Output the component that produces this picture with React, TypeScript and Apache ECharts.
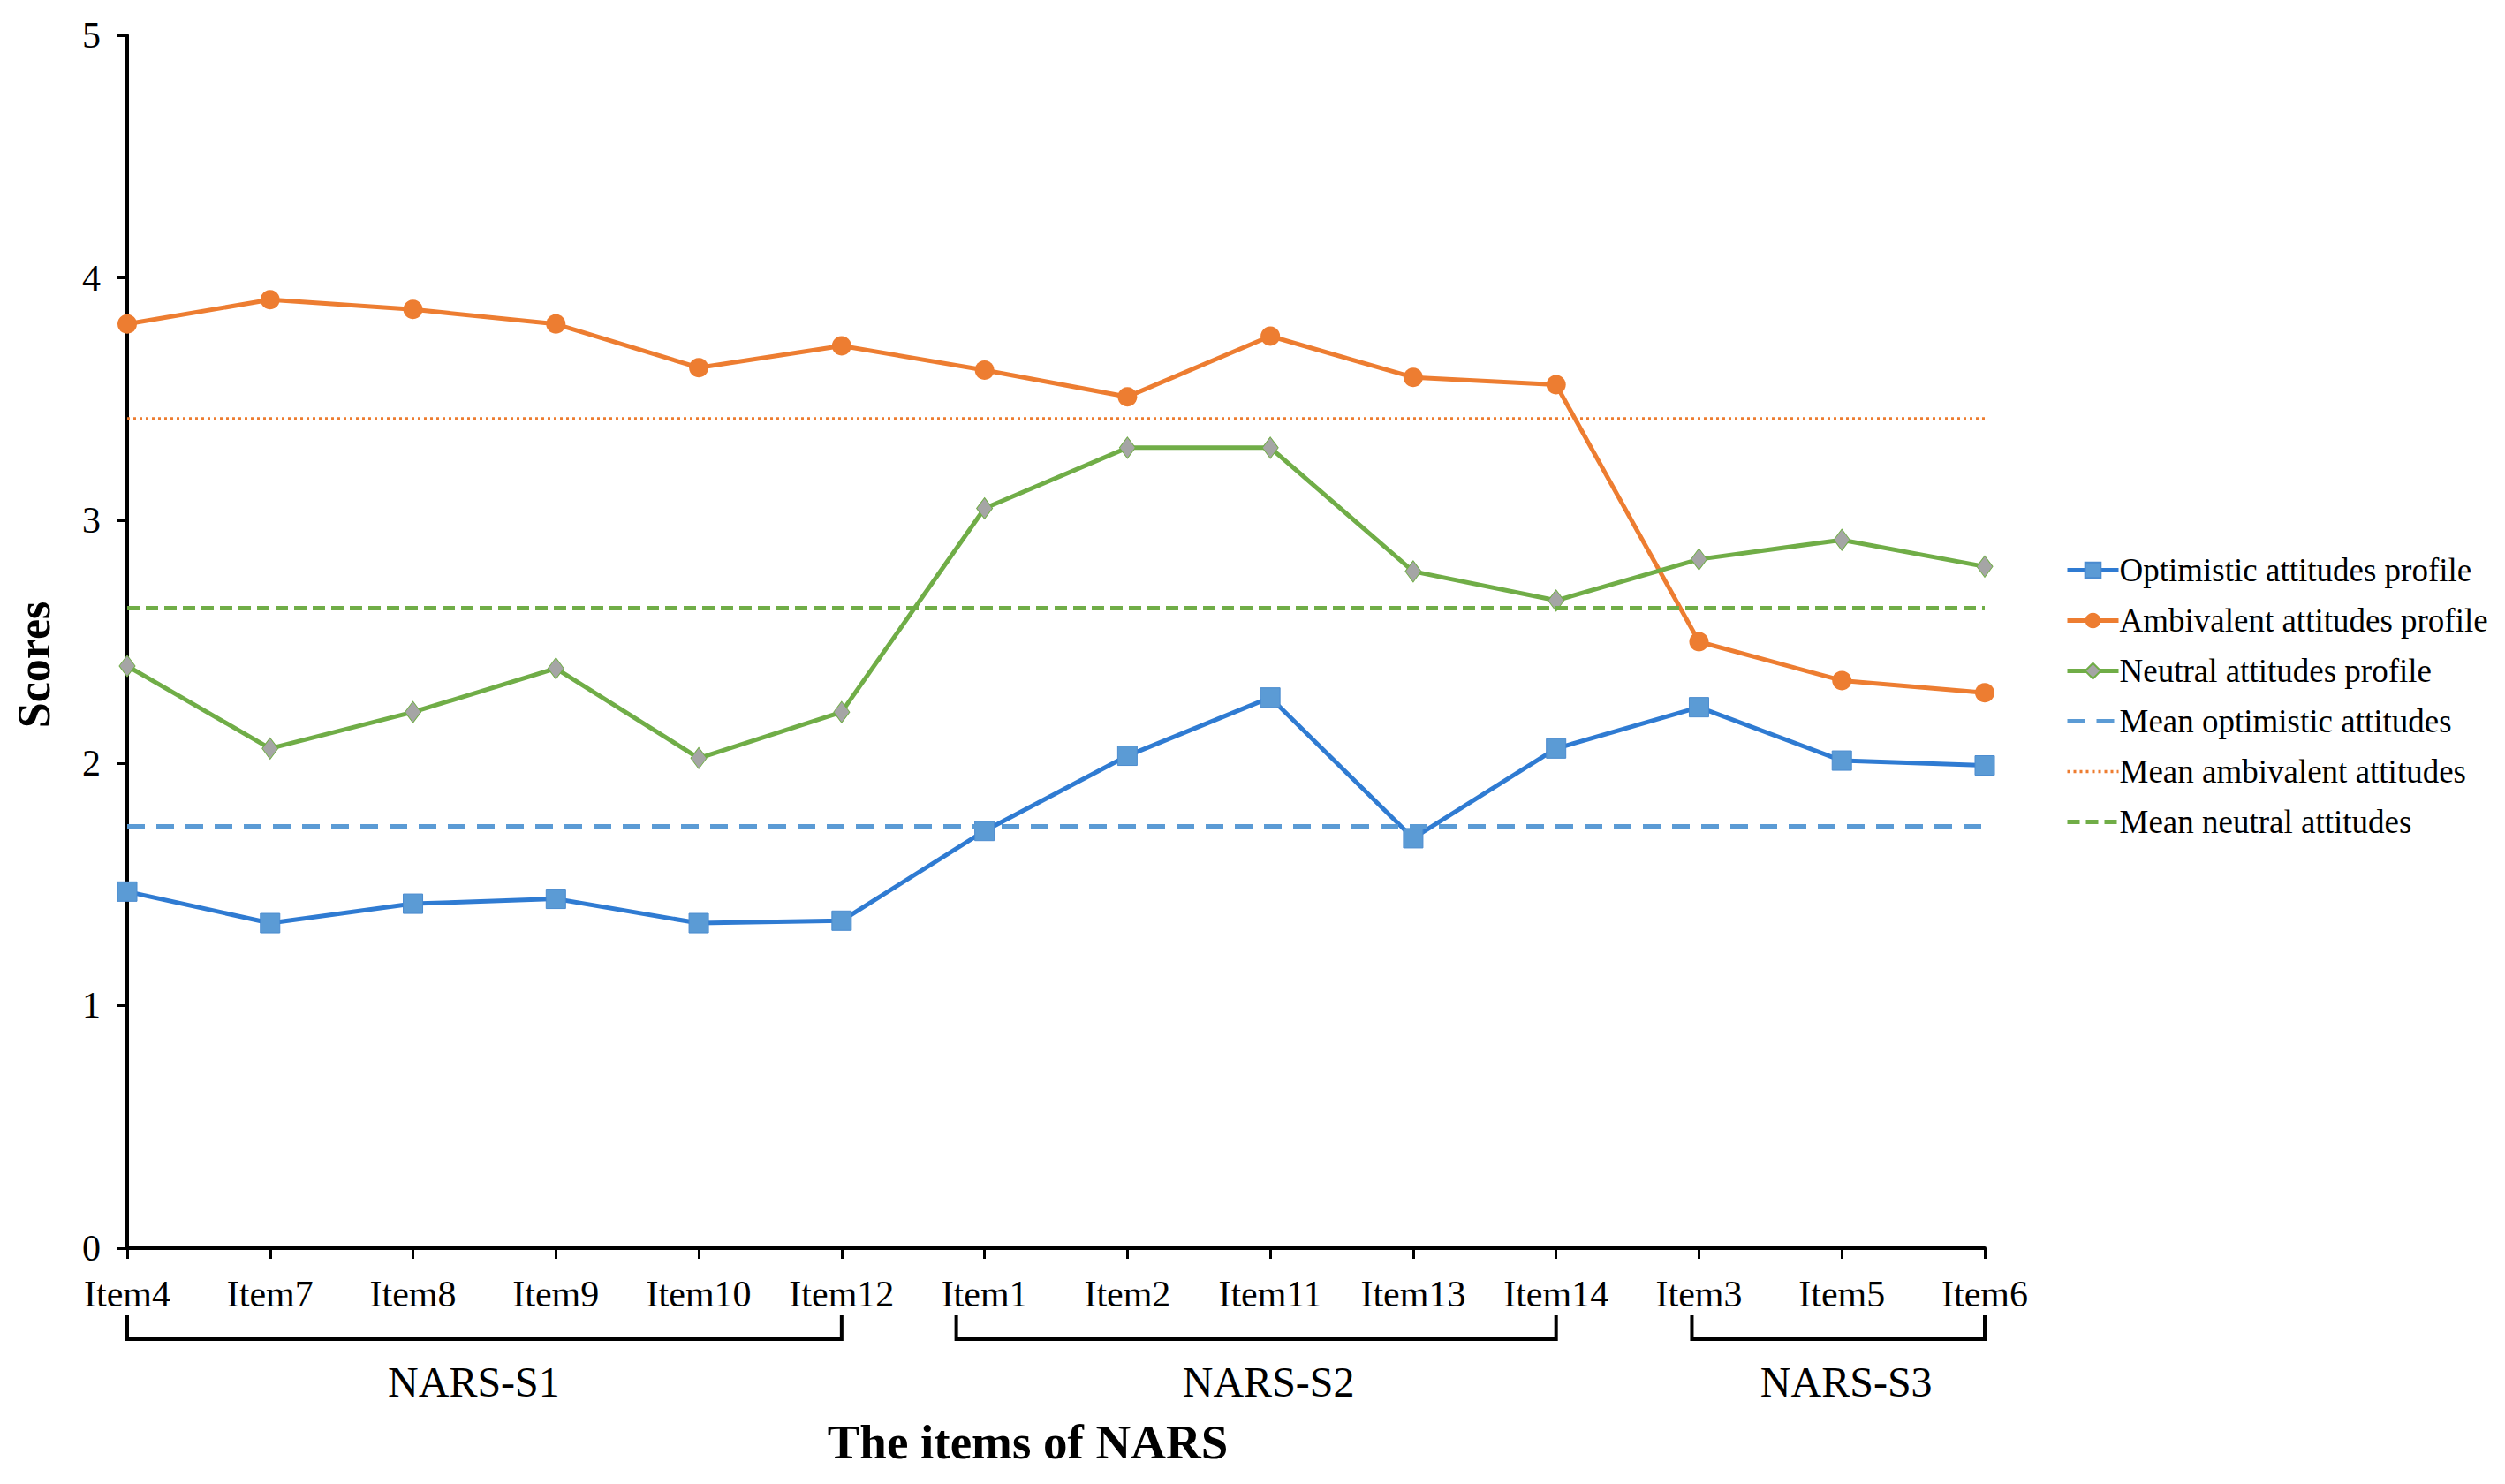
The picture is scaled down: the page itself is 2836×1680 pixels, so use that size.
import React, { useEffect, useRef } from "react";
import * as echarts from "echarts";

const categories = ["Item4", "Item7", "Item8", "Item9", "Item10", "Item12", "Item1", "Item2", "Item11", "Item13", "Item14", "Item3", "Item5", "Item6"];
const optimistic = [1.47, 1.34, 1.42, 1.44, 1.34, 1.35, 1.72, 2.03, 2.27, 1.69, 2.06, 2.23, 2.01, 1.99];
const ambivalent = [3.81, 3.91, 3.87, 3.81, 3.63, 3.72, 3.62, 3.51, 3.76, 3.59, 3.56, 2.5, 2.34, 2.29];
const neutral = [2.4, 2.06, 2.21, 2.39, 2.02, 2.21, 3.05, 3.3, 3.3, 2.79, 2.67, 2.84, 2.92, 2.81];
const meanOptimistic = 1.74;
const meanAmbivalent = 3.42;
const meanNeutral = 2.64;
const groupLabels = ["NARS-S1", "NARS-S2", "NARS-S3"];
const groupStart = ["Item4", "Item1", "Item3"];
const groupEnd = ["Item12", "Item14", "Item6"];
const seriesNames = [
  "Optimistic attitudes profile",
  "Ambivalent attitudes profile",
  "Neutral attitudes profile",
  "Mean optimistic attitudes",
  "Mean ambivalent attitudes",
  "Mean neutral attitudes",
];

const FONT = "'Liberation Serif', 'Times New Roman', serif";
const BLUE_LINE = "#2F7BD2";
const BLUE_MARK = "#5B9BD5";
const ORANGE = "#ED7D31";
const GREEN = "#70AD47";
const GRAY = "#A5A5A5";

function meanSeries(name: string, value: number, color: string, type: any, width: number) {
  return {
    name,
    type: "line",
    data: [],
    symbol: "none",
    showSymbol: false,
    z: 1,
    lineStyle: { color, type, width },
    itemStyle: { color, opacity: 0 },
    markLine: {
      silent: true,
      symbol: "none",
      label: { show: false },
      lineStyle: { color, type, width, opacity: 1 },
      data: [{ yAxis: value }],
    },
  };
}

export default function App() {
  const ref = useRef<HTMLDivElement>(null);
  useEffect(() => {
    document.body.style.margin = "0";
    document.body.style.overflow = "hidden";
    const chart = echarts.init(ref.current!, null, { renderer: "svg" });
    const legendData = seriesNames.map((n, i) =>
      i < 3 ? { name: n } : { name: n, itemStyle: { opacity: 0 } }
    );
    const option: any = {
      animation: false,
      backgroundColor: "#ffffff",
      grid: { left: 144, right: 589, top: 40, bottom: 267, containLabel: false, outerBoundsMode: "none" },
      legend: {
        orient: "vertical",
        left: 2333,
        top: 622,
        itemWidth: 58,
        itemHeight: 22,
        itemGap: 20,
        data: legendData,
        lineStyle: { width: "inherit" },
        textStyle: { fontFamily: FONT, fontSize: 37, color: "#000", lineHeight: 37, padding: [0, 0, 0, -4] },
      },
      xAxis: {
        type: "category",
        data: categories,
        boundaryGap: false,
        name: "The items of NARS",
        nameLocation: "middle",
        nameGap: 192,
        nameTextStyle: { fontFamily: FONT, fontSize: 55, fontWeight: "bold", color: "#000", padding: [0, 64, 0, 0] },
        axisLine: { lineStyle: { color: "#000", width: 4 } },
        axisTick: { show: true, alignWithLabel: true, length: 12, lineStyle: { color: "#000", width: 3 } },
        axisLabel: { fontFamily: FONT, fontSize: 42, color: "#000", margin: 31, interval: 0 },
        splitLine: { show: false },
      },
      yAxis: {
        type: "value",
        min: 0,
        max: 5,
        interval: 1,
        axisLine: { show: true, lineStyle: { color: "#000", width: 4 } },
        axisTick: { show: true, length: 12, lineStyle: { color: "#000", width: 3 } },
        axisLabel: { fontFamily: FONT, fontSize: 42, color: "#000", margin: 30 },
        splitLine: { show: false },
      },
      series: [
        meanSeries(seriesNames[3], meanOptimistic, BLUE_MARK, [20, 13], 5),
        meanSeries(seriesNames[4], meanAmbivalent, ORANGE, [3, 4], 3.5),
        meanSeries(seriesNames[5], meanNeutral, GREEN, [14, 7], 5),
        {
          name: seriesNames[0],
          type: "line",
          data: optimistic,
          z: 3,
          symbol: "rect",
          symbolSize: 22,
          lineStyle: { color: BLUE_LINE, width: 5 },
          itemStyle: { color: BLUE_MARK, borderColor: "#4A8BCF", borderWidth: 1 },
        },
        {
          name: seriesNames[1],
          type: "line",
          data: ambivalent,
          z: 3,
          symbol: "circle",
          symbolSize: 22,
          lineStyle: { color: ORANGE, width: 5 },
          itemStyle: { color: ORANGE },
        },
        {
          name: seriesNames[2],
          type: "line",
          data: neutral,
          z: 3,
          symbol: "diamond",
          symbolSize: [18, 24],
          lineStyle: { color: GREEN, width: 5 },
          itemStyle: { color: GRAY, borderColor: GREEN, borderWidth: 1 },
        },
      ],
    };
    chart.setOption(option);

    const yZero = chart.convertToPixel({ yAxisIndex: 0 }, 0) as number;
    const yMid = ((chart.convertToPixel({ yAxisIndex: 0 }, 0) as number) + (chart.convertToPixel({ yAxisIndex: 0 }, 5) as number)) / 2;
    const top = yZero + 76;
    const bottom = yZero + 103;
    const leftShift = [0, -32, -8];
    const labelShift = [-12, 14, 9];
    const graphic: any[] = [
      {
        type: "text",
        x: 38,
        y: yMid + 26,
        rotation: Math.PI / 2,
        style: {
          text: "Scores",
          font: `bold 52px ${FONT}`,
          fill: "#000",
          textAlign: "center",
          textVerticalAlign: "middle",
        },
      },
    ];
    groupLabels.forEach((label, i) => {
      const x1 = (chart.convertToPixel({ xAxisIndex: 0 }, groupStart[i]) as number) + leftShift[i];
      const x2 = chart.convertToPixel({ xAxisIndex: 0 }, groupEnd[i]) as number;
      graphic.push({
        type: "polyline",
        shape: { points: [[x1, top], [x1, bottom], [x2, bottom], [x2, top]] },
        style: { stroke: "#000", lineWidth: 4, fill: "none" },
      });
      graphic.push({
        type: "text",
        x: (x1 + x2) / 2 + labelShift[i],
        y: bottom + 48,
        style: {
          text: label,
          font: `48px ${FONT}`,
          fill: "#000",
          textAlign: "center",
          textVerticalAlign: "middle",
        },
      });
    });
    chart.setOption({ graphic });

    return () => chart.dispose();
  }, []);
  return <div ref={ref} style={{ width: 2836, height: 1680 }} />;
}
